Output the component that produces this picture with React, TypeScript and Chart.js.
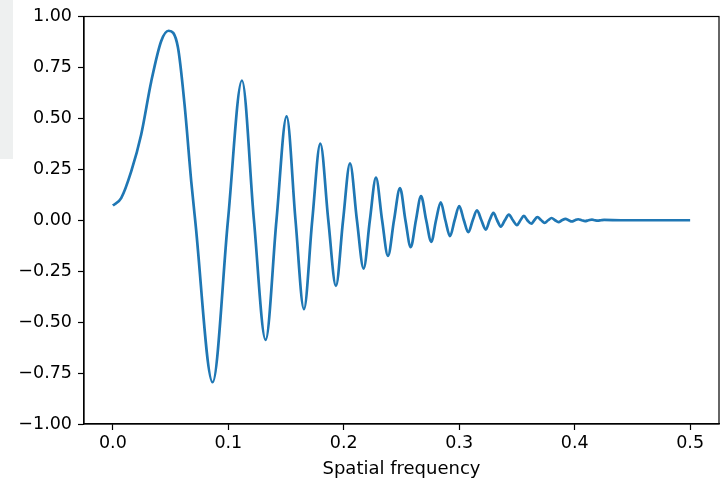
import React, { useEffect, useRef } from "react";
import { Chart, registerables } from "chart.js";

Chart.register(...registerables);

// Points (x = spatial frequency, y = response)
const freq = [
  0, 0.0072, 0.0159, 0.0245, 0.0332, 0.0419, 0.0483, 0.0563, 0.0621, 0.0679, 0.0713,
  0.0864, 0.0997, 0.1118, 0.1222, 0.1323, 0.1417, 0.1505, 0.1582, 0.1655, 0.1727,
  0.1797, 0.1866, 0.1932, 0.1994, 0.2054, 0.2114, 0.2172, 0.2226, 0.2279, 0.2332,
  0.2383, 0.2435, 0.2487, 0.2534, 0.258, 0.2625, 0.2669, 0.2714, 0.2758, 0.2799,
  0.284, 0.288, 0.292, 0.296, 0.3, 0.304, 0.3079, 0.3117, 0.3154, 0.3192,
  0.323, 0.3263, 0.3296, 0.3328, 0.336, 0.3395, 0.343, 0.3465, 0.35, 0.353,
  0.356, 0.359, 0.3625, 0.365, 0.3677, 0.371, 0.374, 0.377, 0.38, 0.383,
  0.386, 0.389, 0.392, 0.3948, 0.3975, 0.4003, 0.403, 0.406, 0.409, 0.412,
  0.415, 0.4175, 0.42, 0.4228, 0.4255, 0.44, 0.46, 0.48, 0.5,
];
const response = [
  0.072, 0.109, 0.24, 0.42, 0.68, 0.88, 0.93, 0.85, 0.567, 0.19, 0.0,
  -0.795, 0.0, 0.686, 0.0, -0.587, 0.0, 0.51, 0.0, -0.436, 0.0,
  0.376, 0.0, -0.322, 0.0, 0.279, 0.0, -0.237, 0.0, 0.209, 0.0,
  -0.175, 0.0, 0.158, 0.0, -0.132, 0.0, 0.118, 0.0, -0.106, 0.0,
  0.088, 0.0, -0.078, 0.0, 0.069, 0.0, -0.059, 0.0, 0.048, 0.0,
  -0.046, 0.0, 0.036, 0.0, -0.031, 0.0, 0.028, 0.0, -0.024, 0.0,
  0.021, 0.0, -0.017, 0.0, 0.015, 0.0, -0.013, 0.0, 0.011, 0.0,
  -0.009, 0.0, 0.007, 0.0, -0.006, 0.0, 0.005, 0.0, -0.004, 0.0,
  0.003, 0.0, -0.002, 0.0, 0.0015, 0.0, 0.0, 0.0, 0.0,
];

const xTicks = [0, 0.1, 0.2, 0.3, 0.4, 0.5];
const yTicks = [-1, -0.75, -0.5, -0.25, 0, 0.25, 0.5, 0.75, 1];
const xLabel = "Spatial frequency";

const FONT = "'DejaVu Sans', sans-serif";

const framePlugin = {
  id: "frame",
  afterDraw(chart: any) {
    const { ctx, chartArea } = chart;
    const { left, top, right, bottom } = chartArea;
    ctx.save();
    ctx.strokeStyle = "#000";
    ctx.lineWidth = 1.2;
    ctx.strokeRect(left, top, right - left, bottom - top);
    ctx.restore();
  },
};

export default function App() {
  const ref = useRef<HTMLCanvasElement | null>(null);

  useEffect(() => {
    if (!ref.current) return;
    const points = freq.map((x, i) => ({ x, y: response[i] }));
    const chart = new Chart(ref.current, {
      type: "line",
      data: {
        datasets: [
          {
            data: points,
            borderColor: "#1f77b4",
            borderWidth: 2.7,
            pointRadius: 0,
            fill: false,
            cubicInterpolationMode: "monotone",
            tension: 0.4,
          },
        ],
      },
      options: {
        animation: false,
        responsive: false,
        events: [],
        layout: { padding: { top: 15, right: 6, left: 0, bottom: 0 } },
        plugins: {
          legend: { display: false },
          tooltip: { enabled: false },
          title: { display: false },
        },
        scales: {
          x: {
            type: "linear",
            min: -0.025,
            max: 0.525,
            afterBuildTicks: (s: any) => {
              s.ticks = xTicks.map((v) => ({ value: v }));
            },
            afterFit: (s: any) => {
              s.height = 58;
            },
            ticks: {
              callback: (v: any) => Number(v).toFixed(1),
              font: { family: FONT, size: 17.5 },
              color: "#000",
              padding: 3,
              maxRotation: 0,
              autoSkip: false,
            },
            grid: {
              drawOnChartArea: false,
              drawTicks: true,
              tickLength: 6,
              tickColor: "#000",
              tickWidth: 1.2,
            },
            border: { display: true, color: "#000", width: 1.2 },
            title: {
              display: true,
              text: xLabel,
              font: { family: FONT, size: 18 },
              color: "#000",
              padding: { top: 0, bottom: 2 },
            },
          },
          y: {
            type: "linear",
            min: -1,
            max: 1,
            afterBuildTicks: (s: any) => {
              s.ticks = yTicks.map((v) => ({ value: v }));
            },
            afterFit: (s: any) => {
              s.width = 84;
            },
            ticks: {
              callback: (v: any) => Number(v).toFixed(2).replace("-", "\u2212"),
              font: { family: FONT, size: 17.5 },
              color: "#000",
              padding: 6,
              autoSkip: false,
            },
            grid: {
              drawOnChartArea: false,
              drawTicks: true,
              tickLength: 6,
              tickColor: "#000",
              tickWidth: 1.2,
            },
            border: { display: true, color: "#000", width: 1.2 },
          },
        },
      },
      plugins: [framePlugin],
    });
    return () => chart.destroy();
  }, []);

  return (
    <div style={{ position: "absolute", left: 0, top: 0, width: 725, height: 482, background: "#fff" }}>
      <div style={{ position: "absolute", left: 0, top: 0, width: 13, height: 159, background: "#eef0f0" }} />
      <canvas ref={ref} width={725} height={482} style={{ position: "absolute", left: 0, top: 0, display: "block" }} />
    </div>
  );
}
